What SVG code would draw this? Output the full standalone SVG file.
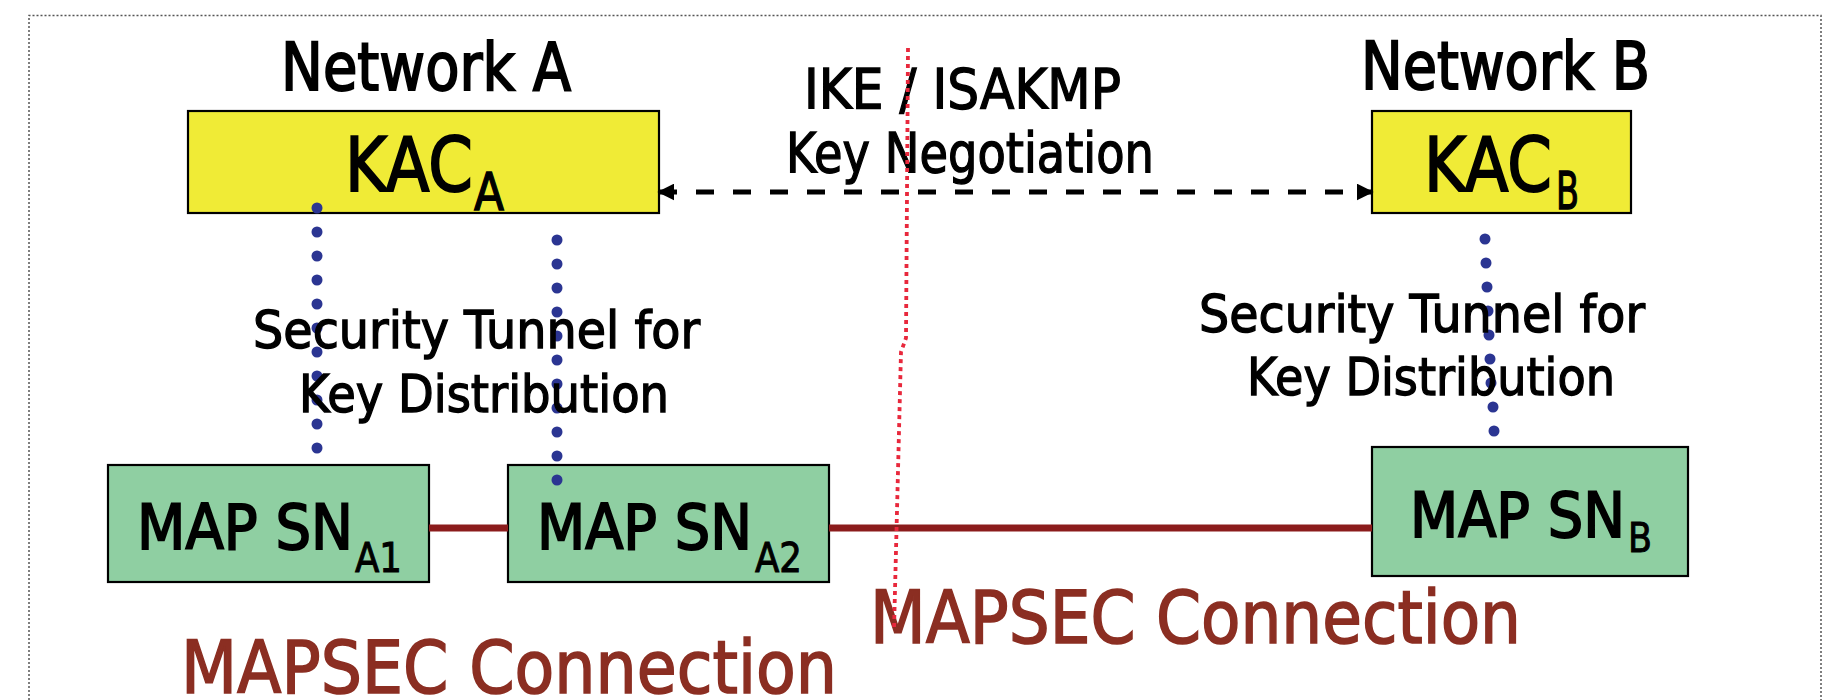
<svg xmlns="http://www.w3.org/2000/svg" width="1835" height="700" viewBox="0 0 1835 700">
  <defs>
    <style>
      .t { font-family: "DejaVu Sans", Verdana, sans-serif; fill: #000; stroke: #000; stroke-width: 1.4; }
      .big { stroke-width: 2; }
      .small { stroke-width: 1; }
      .kac { fill: #f0eb36; stroke: #000; stroke-width: 2.2; }
      .map { fill: #8fcfa2; stroke: #000; stroke-width: 2.2; }
      .tunnel { fill: #2b3592; }
      .link { stroke: #8b1c1c; stroke-width: 7; fill: none; }
      .ike { stroke: #000; stroke-width: 5; stroke-dasharray: 18 19; fill: none; }
      .border { stroke: #555; stroke-width: 1.5; stroke-dasharray: 2 2; fill: none; }
      .boundary { stroke: #e8283c; stroke-width: 3.8; stroke-dasharray: 4 4; fill: none; }
      .mapsec { font-family: "DejaVu Sans", Verdana, sans-serif; fill: #8b2e22; stroke: #8b2e22; stroke-width: 1.6; font-size: 73px; }
    </style>
    <marker id="arrowEnd" viewBox="0 0 10 10" refX="9" refY="5" markerWidth="3.4" markerHeight="3.4" orient="auto">
      <path d="M0,0 L10,5 L0,10 z" fill="#000"/>
    </marker>
    <marker id="arrowStart" viewBox="0 0 10 10" refX="1" refY="5" markerWidth="3.4" markerHeight="3.4" orient="auto">
      <path d="M10,0 L0,5 L10,10 z" fill="#000"/>
    </marker>
  </defs>

  <rect width="1835" height="700" fill="#fff"/>

  <!-- slide frame -->
  <path class="border" d="M29,700 L29,15.5 L1821,15.5 L1821,700"/>

  <!-- network titles -->
  <text class="t big" x="281" y="90" font-size="66" textLength="290" lengthAdjust="spacingAndGlyphs">Network A</text>
  <text class="t big" x="1361" y="89" font-size="66" textLength="289" lengthAdjust="spacingAndGlyphs">Network B</text>

  <!-- key administration centres -->
  <g id="kac-a">
    <rect class="kac" x="188" y="111" width="471" height="102"/>
    <text class="t big" x="345" y="191" font-size="75" textLength="128" lengthAdjust="spacingAndGlyphs">KAC</text>
    <text class="t" x="474" y="210" font-size="51" textLength="30" lengthAdjust="spacingAndGlyphs">A</text>
  </g>
  <g id="kac-b">
    <rect class="kac" x="1372" y="111" width="259" height="102"/>
    <text class="t big" x="1424" y="191" font-size="75" textLength="128" lengthAdjust="spacingAndGlyphs">KAC</text>
    <text class="t" x="1556" y="209" font-size="51" textLength="23" lengthAdjust="spacingAndGlyphs">B</text>
  </g>

  <!-- MAP security network elements -->
  <g id="map-sn-a1">
    <rect class="map" x="108" y="465" width="321" height="117"/>
    <text class="t big" x="137" y="549" font-size="63" textLength="216" lengthAdjust="spacingAndGlyphs">MAP SN</text>
    <text class="t small" x="355" y="572" font-size="41" textLength="47" lengthAdjust="spacingAndGlyphs">A1</text>
  </g>
  <g id="map-sn-a2">
    <rect class="map" x="508" y="465" width="321" height="117"/>
    <text class="t big" x="537" y="549" font-size="63" textLength="215" lengthAdjust="spacingAndGlyphs">MAP SN</text>
    <text class="t small" x="755" y="572" font-size="41" textLength="47" lengthAdjust="spacingAndGlyphs">A2</text>
  </g>
  <g id="map-sn-b">
    <rect class="map" x="1372" y="447" width="316" height="129"/>
    <text class="t big" x="1410" y="537" font-size="63" textLength="215" lengthAdjust="spacingAndGlyphs">MAP SN</text>
    <text class="t small" x="1628" y="552" font-size="41" textLength="24" lengthAdjust="spacingAndGlyphs">B</text>
  </g>

  <!-- connectors -->
  <g id="connectors">
    <!-- MAPSEC links -->
    <line class="link" x1="429" y1="528" x2="508" y2="528"/>
    <line class="link" x1="829" y1="528" x2="1372" y2="528"/>
    <!-- IKE / ISAKMP negotiation between KACs -->
    <line class="ike" x1="659" y1="192" x2="1372" y2="192" marker-start="url(#arrowStart)" marker-end="url(#arrowEnd)"/>
    <!-- key distribution tunnels -->
    <g class="tunnel">
      <circle cx="317" cy="208" r="5.5"/><circle cx="317" cy="232" r="5.5"/><circle cx="317" cy="256" r="5.5"/>
      <circle cx="317" cy="280" r="5.5"/><circle cx="317" cy="304" r="5.5"/><circle cx="317" cy="328" r="5.5"/>
      <circle cx="317" cy="352" r="5.5"/><circle cx="317" cy="376" r="5.5"/><circle cx="317" cy="400" r="5.5"/>
      <circle cx="317" cy="424" r="5.5"/><circle cx="317" cy="448" r="5.5"/>

      <circle cx="557" cy="240" r="5.5"/><circle cx="557" cy="264" r="5.5"/><circle cx="557" cy="288" r="5.5"/>
      <circle cx="557" cy="312" r="5.5"/><circle cx="557" cy="336" r="5.5"/><circle cx="557" cy="360" r="5.5"/>
      <circle cx="557" cy="384" r="5.5"/><circle cx="557" cy="408" r="5.5"/><circle cx="557" cy="432" r="5.5"/>
      <circle cx="557" cy="456" r="5.5"/><circle cx="557" cy="480" r="5.5"/>

      <circle cx="1485" cy="239" r="5.5"/><circle cx="1486" cy="263" r="5.5"/><circle cx="1487" cy="287" r="5.5"/>
      <circle cx="1488" cy="311" r="5.5"/><circle cx="1489" cy="335" r="5.5"/><circle cx="1490" cy="359" r="5.5"/>
      <circle cx="1491" cy="383" r="5.5"/><circle cx="1493" cy="407" r="5.5"/><circle cx="1494" cy="431" r="5.5"/>
    </g>
  </g>

  <!-- labels -->
  <g id="labels">
    <text class="t" x="804" y="108" font-size="55" textLength="317" lengthAdjust="spacingAndGlyphs">IKE / ISAKMP</text>
    <text class="t" x="786" y="172" font-size="55" textLength="368" lengthAdjust="spacingAndGlyphs">Key Negotiation</text>
    <text class="t" x="253" y="348" font-size="52" textLength="447" lengthAdjust="spacingAndGlyphs">Security Tunnel for</text>
    <text class="t" x="299" y="412" font-size="52" textLength="370" lengthAdjust="spacingAndGlyphs">Key Distribution</text>
    <text class="t" x="1199" y="332" font-size="52" textLength="446" lengthAdjust="spacingAndGlyphs">Security Tunnel for</text>
    <text class="t" x="1247" y="395" font-size="52" textLength="368" lengthAdjust="spacingAndGlyphs">Key Distribution</text>
    <text class="mapsec" x="870" y="643" textLength="651" lengthAdjust="spacingAndGlyphs">MAPSEC Connection</text>
    <text class="mapsec" x="181" y="693" textLength="656" lengthAdjust="spacingAndGlyphs">MAPSEC Connection</text>
  </g>

  <!-- network boundary -->
  <path class="boundary" d="M908,48 L906,338 L901,352 L894,630"/>
</svg>
